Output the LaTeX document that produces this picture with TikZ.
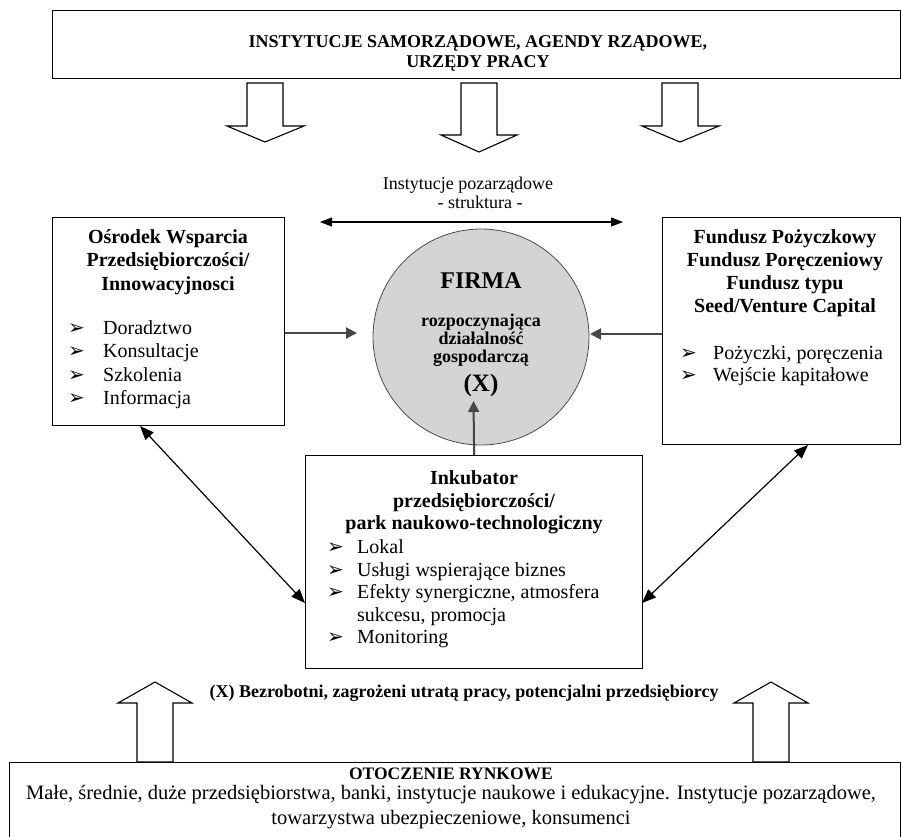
\documentclass[tikz,border=0pt]{standalone}
\usepackage{fontspec}
\setmainfont{Liberation Serif}
\newfontfamily\symfont{DejaVu Sans}
\usetikzlibrary{arrows.meta}
\newcommand\bulsym{{\symfont\fontsize{20}{20}\selectfont ➢}}
\newcommand\blt[1]{\makebox[#1][l]{\bulsym}}
\begin{document}
\begin{tikzpicture}[x=1pt,y=-1pt,
  box/.style={draw, line width=1.3pt, inner sep=0pt, anchor=north west},
  txt/.style={inner sep=0pt, font=\fontsize{20}{23}\selectfont, anchor=base},
  hd/.style={txt, font=\fontsize{20}{23.5}\selectfont\bfseries, align=center},
  lst/.style={txt, align=left, anchor=base west},
  hollow/.style={draw, line width=1.1pt, fill=white, line join=miter},
  grayarr/.style={draw=black!72, line width=2pt, -{Triangle[length=11pt,width=11pt]}},
  dbl/.style={draw=black, line width=1.2pt, {Triangle[length=14pt,width=11pt]}-{Triangle[length=14pt,width=11pt]}},
  thinarr/.style={draw=black, line width=1.2pt, {Triangle[length=12pt,width=9pt]}-{Triangle[length=12pt,width=9pt]}}]
\useasboundingbox (0,0) rectangle (902,836);

% boxes
\node[box, minimum width=848pt, minimum height=68pt] (top) at (52,10) {};
\node[box, minimum width=232pt, minimum height=208pt] (left) at (52,217) {};
\node[box, minimum width=238pt, minimum height=227pt] (right) at (662,217) {};
\node[box, minimum width=337pt, minimum height=213pt] (ink) at (305,455) {};
\node[box, minimum width=891pt, minimum height=100pt] (bottom) at (9,762) {};
\node[circle, draw=black!70, line width=0.8pt, fill=black!17, minimum size=216pt, inner sep=0pt] (firma) at (481,337) {};

% top box text (base = last line)
\node[txt, font=\fontsize{18}{20}\selectfont\bfseries, align=center] (toptxt) at (478,67.5)
  {INSTYTUCJE SAMORZĄDOWE, AGENDY RZĄDOWE,\\URZĘDY PRACY};

% hollow down arrows
\draw[hollow] (247,83) -- (283,83) -- (283,126) -- (304,126) -- (265,142) -- (227,126) -- (247,126) -- cycle;
\draw[hollow] (461,83) -- (497,83) -- (497,135) -- (517,135) -- (479,152) -- (441,135) -- (461,135) -- cycle;
\draw[hollow] (662,83) -- (698,83) -- (698,126) -- (719,126) -- (680,142) -- (642,126) -- (662,126) -- cycle;

% non-governmental structure
\node[txt, font=\fontsize{18}{20}\selectfont] (ngo1) at (468,189.5) {Instytucje pozarządowe};
\node[txt, font=\fontsize{18}{20}\selectfont] (ngo2) at (480,208.5) {- struktura -};
\coordinate (sl) at (320,222);
\coordinate (sr) at (623,222);
\draw[thinarr] (sl) -- (sr);

% left box
\node[hd] (lefth) at (168,290) {Ośrodek Wsparcia\\Przedsiębiorczości/\\Innowacyjnosci};
\node[lst, font=\fontsize{20}{23.3}\selectfont] (leftl) at (68,404.4) {\blt{35pt}Doradztwo\\\blt{35pt}Konsultacje\\\blt{35pt}Szkolenia\\\blt{35pt}Informacja};

% right box
\node[hd, font=\fontsize{20}{23}\selectfont\bfseries] (righth) at (785,312) {Fundusz Pożyczkowy\\Fundusz Poręczeniowy\\Fundusz typu\\Seed/Venture Capital};
\node[lst, font=\fontsize{20}{22}\selectfont] (rightl) at (680,381.5) {\blt{33pt}Pożyczki, poręczenia\\\blt{33pt}Wejście kapitałowe};

% firma
\node[txt, font=\fontsize{24}{24}\selectfont\bfseries] (firmah) at (481,288) {FIRMA};
\node[txt, font=\fontsize{18}{18}\selectfont\bfseries, align=center] (firmat) at (481,362)
  {rozpoczynająca\\działalność\\gospodarczą};
\node[txt, font=\fontsize{25}{25}\selectfont\bfseries] (firmax) at (481,391) {(X)};

% incubator
\node[hd, font=\fontsize{20}{22.5}\selectfont\bfseries] (inkh) at (474,529.5) {Inkubator\\przedsiębiorczości/\\park naukowo-technologiczny};
\node[lst, font=\fontsize{20}{22.6}\selectfont] (inkl) at (327,643.9)
  {\blt{30pt}Lokal\\\blt{30pt}Usługi wspierające biznes\\\blt{30pt}Efekty synergiczne, atmosfera\\\hspace*{30pt}sukcesu, promocja\\\blt{30pt}Monitoring};

% gray arrows into firma
\coordinate (lin) at (357,333);
\coordinate (rin) at (590,334);
\coordinate (fin) at (473.5,401);
\draw[grayarr] (left.east |- lin) -- (lin);
\draw[grayarr] (right.west |- rin) -- (rin);
\draw[grayarr] (ink.north) -- (fin);

% diagonal double arrows
\coordinate (la) at (140,426);
\coordinate (lb) at (305,603);
\coordinate (ra) at (808,445);
\coordinate (rb) at (642,603);
\draw[dbl] (la) -- (lb);
\draw[dbl] (ra) -- (rb);

% unemployed label
\node[txt, font=\fontsize{18}{20}\selectfont\bfseries] (xlab) at (464,697)
  {(X) Bezrobotni, zagrożeni utratą pracy, potencjalni przedsiębiorcy};

% hollow up arrows
\draw[hollow] (137,762) -- (173,762) -- (173,703) -- (192,703) -- (155,682) -- (118,703) -- (137,703) -- cycle;
\draw[hollow] (753,762) -- (789,762) -- (789,703) -- (808,703) -- (771,682) -- (734,703) -- (753,703) -- cycle;

% bottom box text
\node[txt, font=\fontsize{17.5}{20}\selectfont\bfseries] (both) at (451,779) {OTOCZENIE RYNKOWE};
\node[txt, font=\fontsize{20.5}{25}\selectfont, align=center] (bott) at (451,824)
  {Małe, średnie, duże przedsiębiorstwa, banki, instytucje naukowe i edukacyjne. Instytucje pozarządowe,\\towarzystwa ubezpieczeniowe, konsumenci};
\end{tikzpicture}
\end{document}
